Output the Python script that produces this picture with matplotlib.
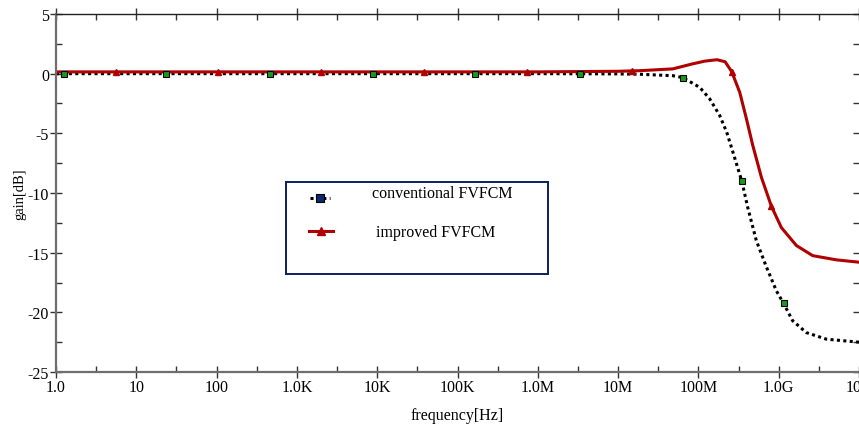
import numpy as np
import matplotlib
matplotlib.use('Agg')
import matplotlib.pyplot as plt
from matplotlib.lines import Line2D
from matplotlib.patches import Rectangle
from matplotlib.ticker import FixedLocator, NullFormatter

plt.rcParams['font.family'] = ['Liberation Serif', 'DejaVu Serif']
plt.rcParams['axes.unicode_minus'] = False

# conventional FVFCM (dotted black curve)
conv_freq = [1.0, 1e3, 1e6, 1e7, 1.86e7, 4.8e7, 6.4e7, 1.04e8, 1.38e8, 1.84e8,
             2.25e8, 2.67e8, 3.09e8, 3.47e8, 3.78e8, 4.11e8, 5.27e8, 7.03e8,
             9.36e8, 1.15e9, 1.49e9, 2.21e9, 3.93e9, 1e10]
conv_gain = [0.0, 0.0, 0.0, -0.02, -0.05, -0.17, -0.33, -1.15, -2.1, -3.5,
             -4.9, -6.5, -7.9, -9.0, -10.1, -11.2, -14.0, -16.2,
             -18.2, -19.25, -20.7, -21.7, -22.25, -22.5]
conv_mark_freq = [1.26, 23.4, 464, 8.9e3, 1.67e5, 3.4e6, 6.4e7, 3.47e8, 1.15e9]
conv_mark_gain = [0.0, 0.0, 0.0, 0.0, 0.0, 0.0, -0.33, -9.0, -19.25]

# improved FVFCM (solid red curve)
imp_freq = [1.0, 1e3, 1e6, 1e7, 1.86e7, 4.8e7, 8.2e7, 1.2e8, 1.7e8, 2.15e8,
            2.6e8, 3.27e8, 3.97e8, 4.75e8, 6.1e8, 8.1e8, 1.08e9, 1.66e9,
            2.65e9, 5.2e9, 1e10]
imp_gain = [0.15, 0.15, 0.15, 0.2, 0.25, 0.4, 0.8, 1.05, 1.17, 1.0,
            0.17, -1.56, -3.8, -6.0, -8.7, -11.1, -12.9, -14.4,
            -15.25, -15.6, -15.8]
imp_mark_freq = [5.6, 104, 1.98e3, 3.8e4, 7.4e5, 1.5e7, 2.6e8, 8.1e8]
imp_mark_gain = [0.15, 0.15, 0.15, 0.15, 0.15, 0.2, 0.17, -11.1]

xticks = [1, 10, 100, 1e3, 1e4, 1e5, 1e6, 1e7, 1e8, 1e9, 1e10]
xlabels = ['1.0', '10', '100', '1.0K', '10K', '100K', '1.0M', '10M', '100M', '1.0G', '10G']
yticks = [5, 0, -5, -10, -15, -20, -25]

red = '#b00000'

fig = plt.figure(figsize=(8.59, 4.27), dpi=100)
ax = fig.add_axes([56 / 859, 1 - 373 / 427, 803 / 859, 358 / 427])

ax.plot(conv_freq, conv_gain, color='black', lw=2.2, ls=(0, (1, 1.1)))
ax.plot(imp_freq, imp_gain, color=red, lw=2.2)
ax.plot(conv_mark_freq, conv_mark_gain, ls='none', marker='s', ms=5,
        mfc='#1a9a1a', mec='black', mew=0.8)
ax.plot(imp_mark_freq, imp_mark_gain, ls='none', marker='^', ms=5,
        mfc=red, mec=red)

ax.set_xscale('log')
ax.set_xlim(1, 1e10)
ax.set_ylim(-25, 5)
ax.xaxis.set_major_locator(FixedLocator(xticks))
ax.set_xticklabels(xlabels)
ax.xaxis.set_minor_locator(FixedLocator([10 ** (k + 0.5) for k in range(10)]))
ax.xaxis.set_minor_formatter(NullFormatter())
ax.set_yticks(yticks)
ax.set_yticks(np.arange(-22.5, 5, 5), minor=True)

ax.tick_params(axis='both', which='major', direction='inout', length=8,
               width=1, labelsize=11.5, colors='#333333', labelcolor='black')
ax.tick_params(axis='both', which='minor', direction='in', length=4, width=1,
               colors='#333333')
ax.tick_params(top=True, right=True, which='both')
ax.tick_params(axis='x', which='major', pad=1)
ax.tick_params(axis='y', which='major', pad=1)

for side in ['left', 'bottom']:
    ax.spines[side].set_color('#6e6e6e')
    ax.spines[side].set_linewidth(1.6)
ax.spines['top'].set_color('#222222')
ax.spines['top'].set_linewidth(1.0)
ax.spines['right'].set_visible(False)

ax.set_xlabel('frequency[Hz]', fontsize=11.5, labelpad=9)
ax.set_ylabel('gain[dB]', fontsize=10.5, labelpad=1)

# legend box drawn by hand to match the reference's oversized frame
x0, y0 = (286 - 56) / 803, (373 - 275) / 358
w, h = (548 - 286) / 803, (275 - 183) / 358
ax.add_patch(Rectangle((x0, y0), w, h, transform=ax.transAxes, fill=False,
                       edgecolor='#0d1f5c', lw=1.4, zorder=5))
ly1 = (373 - 199) / 358
ly2 = (373 - 232) / 358
ax.add_line(Line2D([(310 - 56) / 803, (330 - 56) / 803], [ly1, ly1],
                   transform=ax.transAxes, color='black', lw=2.2,
                   ls=(0, (1, 1.1))))
ax.add_line(Line2D([(320 - 56) / 803], [ly1], transform=ax.transAxes,
                   marker='s', ms=6, mfc='#0b2a6e', mec='black', mew=0.8))
ax.add_line(Line2D([(309 - 56) / 803, (333 - 56) / 803], [ly2, ly2],
                   transform=ax.transAxes, color=red, lw=2.2))
ax.add_line(Line2D([(321 - 56) / 803], [ly2], transform=ax.transAxes,
                   marker='^', ms=6, mfc=red, mec=red))
ax.text((372 - 56) / 803, (373 - 194) / 358, 'conventional FVFCM',
        transform=ax.transAxes, fontsize=11.5, va='center')
ax.text((376 - 56) / 803, (373 - 233) / 358, 'improved FVFCM',
        transform=ax.transAxes, fontsize=11.5, va='center')

fig.savefig('out.png', dpi=100)
